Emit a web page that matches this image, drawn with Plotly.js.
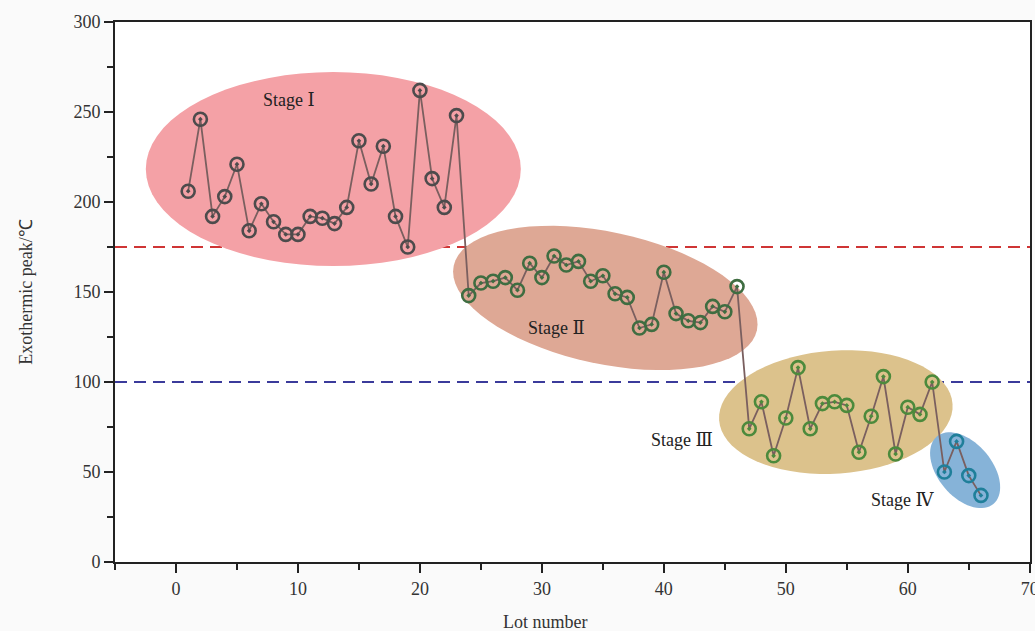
<!DOCTYPE html>
<html><head><meta charset="utf-8">
<script src="https://cdn.plot.ly/plotly-3.0.1.min.js"></script>
<style>html,body{margin:0;padding:0;background:#fafafa}</style>
</head><body><div id="chart" style="width:1035px;height:631px"></div>
<script>
// Data
const stage1Lots = [1,2,3,4,5,6,7,8,9,10,11,12,13,14,15,16,17,18,19,20,21,22,23];
const stage1Peak = [206,246,192,203,221,184,199,189,182,182,192,191,188,197,234,210,231,192,175,262,213,197,248];
const stage2Lots = [24,25,26,27,28,29,30,31,32,33,34,35,36,37,38,39,40,41,42,43,44,45,46];
const stage2Peak = [148,155,156,158,151,166,158,170,165,167,156,159,149,147,130,132,161,138,134,133,142,139,153];
const stage3Lots = [47,48,49,50,51,52,53,54,55,56,57,58,59,60,61,62];
const stage3Peak = [74,89,59,80,108,74,88,89,87,61,81,103,60,86,82,100];
const stage4Lots = [63,64,65,66];
const stage4Peak = [50,67,48,37];
const upperLimit = 175;
const lowerLimit = 100;
const stageLabels = ["Stage Ⅰ","Stage Ⅱ","Stage Ⅲ","Stage Ⅳ"];

const XR = [-5, 70.02], YR = [0, 300];
const M = {l:115, r:5, t:22, b:69};
const W = 1035, H = 631;
const kx = (W - M.l - M.r) / (XR[1]-XR[0]);
const ky = (H - M.t - M.b) / (YR[1]-YR[0]);

function ellipsePath(cx, cy, a, b, deg){
  const th = deg*Math.PI/180; let p = '';
  for(let i=0;i<=72;i++){
    const t = i/72*2*Math.PI;
    const X = a*Math.cos(t)*Math.cos(th) - b*Math.sin(t)*Math.sin(th);
    const Y = a*Math.cos(t)*Math.sin(th) + b*Math.sin(t)*Math.cos(th);
    const dx = cx + X/kx, dy = cy - Y/ky;
    p += (i===0?'M':'L') + dx.toFixed(3) + ',' + dy.toFixed(3) + ' ';
  }
  return p + 'Z';
}

const allLots = [].concat(stage1Lots, stage2Lots, stage3Lots, stage4Lots);
const allPeak = [].concat(stage1Peak, stage2Peak, stage3Peak, stage4Peak);

const mk = (x,y,c)=>({x:x,y:y,mode:'markers',type:'scatter',hoverinfo:'x+y',
  marker:{symbol:'circle-open-dot',size:13,color:c,line:{width:2.6,color:c}}});

const traces = [
  {x:allLots,y:allPeak,mode:'lines',type:'scatter',line:{color:'#7a5f5f',width:1.8},hoverinfo:'skip'},
  mk(stage1Lots,stage1Peak,'#4d4b4c'),
  mk(stage2Lots,stage2Peak,'#3f6d41'),
  mk(stage3Lots,stage3Peak,'#4c8a3c'),
  mk(stage4Lots,stage4Peak,'#1f7f9a')
];

const ell = (path,col)=>({type:'path',xref:'x',yref:'y',path:path,fillcolor:col,line:{width:0},layer:'below'});
const shapes = [
  ell(ellipsePath(12.9,218.3,187.5,97,0),'#f4a1a6'),
  ell(ellipsePath(35.2,146.7,155,66,12),'#dea895'),
  ell(ellipsePath(54.1,83.3,117,61.5,-4),'#dcc28c'),
  ell(ellipsePath(64.7,51,44,27,50),'#86b3d8'),
  {type:'line',xref:'paper',yref:'y',x0:0,x1:1,y0:upperLimit,y1:upperLimit,line:{color:'#cf3535',width:2,dash:'12px,7px'},layer:'below'},
  {type:'line',xref:'paper',yref:'y',x0:0,x1:1,y0:lowerLimit,y1:lowerLimit,line:{color:'#3b3b9b',width:2,dash:'12px,7px'},layer:'below'}
];

const fnt = {family:'Liberation Serif, DejaVu Serif, serif',size:18,color:'#222'};
const ann = (x,y,t)=>({x:x,y:y,xref:'x',yref:'y',text:t,showarrow:false,font:fnt});
const annotations = [
  ann(9.3,256.7,stageLabels[0]),
  ann(31.2,130,stageLabels[1]),
  ann(41.5,67.8,stageLabels[2]),
  ann(59.6,34.4,stageLabels[3]),
  {x:0.47,y:-0.111,xref:'paper',yref:'paper',xanchor:'center',yanchor:'middle',text:'Lot number',showarrow:false,
   font:{family:'Liberation Serif, serif',size:18,color:'#333'}}
];

const axisCommon = {showline:true,mirror:true,linecolor:'#222',linewidth:2,showgrid:false,zeroline:false,
  ticks:'outside',ticklen:9,tickwidth:1.5,tickcolor:'#222',ticklabeloverflow:'allow',
  tickfont:{family:'Liberation Serif, serif',size:18,color:'#333'}};

const layout = {
  width:W,height:H,margin:M,paper_bgcolor:'#fafafa',plot_bgcolor:'#ffffff',showlegend:false,
  xaxis:Object.assign({},axisCommon,{range:XR,dtick:10,tick0:0,
    minor:{dtick:5,tick0:0,ticks:'outside',ticklen:6,tickcolor:'#222',tickwidth:1.5}}),
  yaxis:Object.assign({},axisCommon,{range:YR,dtick:50,tick0:0,
    minor:{dtick:25,tick0:0,ticks:'outside',ticklen:6,tickcolor:'#222',tickwidth:1.5},
    title:{text:'Exothermic peak/℃',font:{family:'Liberation Serif, serif',size:18,color:'#333'},standoff:36}}),
  shapes:shapes,annotations:annotations
};
Plotly.newPlot('chart',traces,layout,{displayModeBar:false,staticPlot:true});
</script></body></html>
